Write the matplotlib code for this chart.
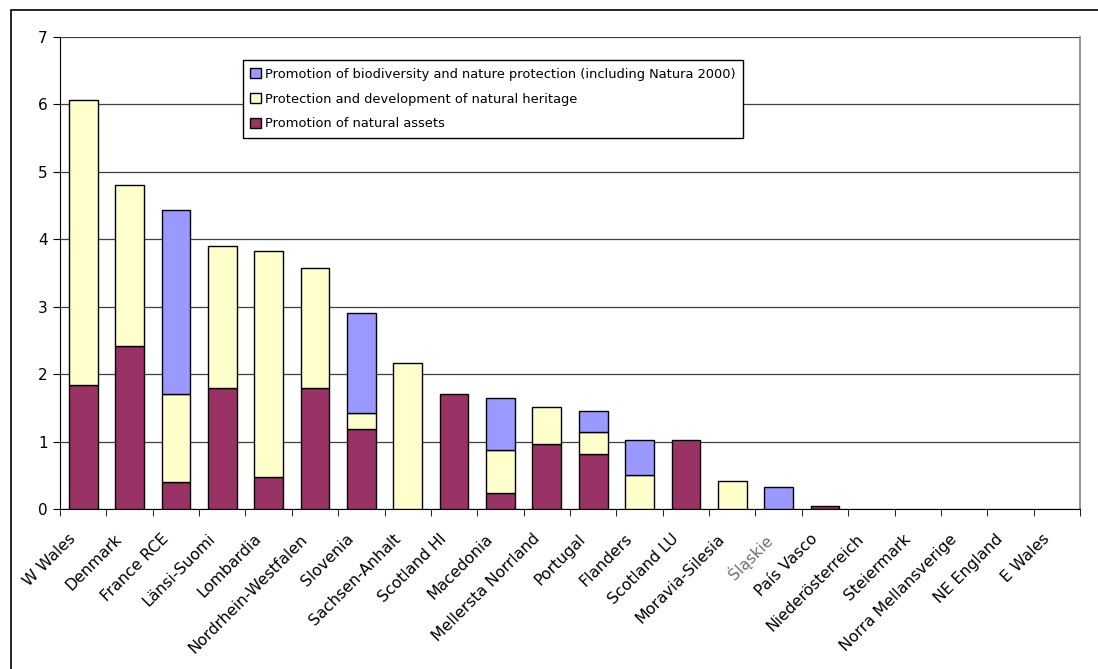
import numpy as np
import matplotlib.pyplot as plt
from matplotlib.transforms import ScaledTranslation
from matplotlib.patches import Rectangle, Patch

# Данные
regions = ['W Wales', 'Denmark', 'France RCE', 'Länsi-Suomi', 'Lombardia',
           'Nordrhein-Westfalen', 'Slovenia', 'Sachsen-Anhalt', 'Scotland HI',
           'Macedonia', 'Mellersta Norrland', 'Portugal', 'Flanders',
           'Scotland LU', 'Moravia-Silesia', 'Śląskie', 'País Vasco',
           'Niederösterreich', 'Steiermark', 'Norra Mellansverige',
           'NE England', 'E Wales']
natural_assets = [1.84, 2.41, 0.40, 1.80, 0.47, 1.79, 1.19, 0.0, 1.70,
                  0.24, 0.97, 0.81, 0.0, 1.02, 0.0, 0.0, 0.05,
                  0.0, 0.0, 0.0, 0.0, 0.0]
natural_heritage = [4.23, 2.40, 1.30, 2.10, 3.36, 1.78, 0.23, 2.16, 0.0,
                    0.64, 0.54, 0.33, 0.50, 0.0, 0.42, 0.0, 0.0,
                    0.0, 0.0, 0.0, 0.0, 0.0]
biodiversity = [0.0, 0.0, 2.74, 0.0, 0.0, 0.0, 1.49, 0.0, 0.0,
                0.77, 0.0, 0.32, 0.52, 0.0, 0.0, 0.33, 0.0,
                0.0, 0.0, 0.0, 0.0, 0.0]

series_labels = ['Promotion of natural assets',
                 'Protection and development of natural heritage',
                 'Promotion of biodiversity and nature protection (including Natura 2000)']
colors = ['#993366', '#FFFFCC', '#9999FF']

plt.rcParams['font.family'] = ['DejaVu Sans']

fig = plt.figure(figsize=(10.98, 6.69), dpi=100)
ax = fig.add_axes([60 / 1098, 1 - 509 / 669, 1020 / 1098, 472 / 669])

# Рамка вокруг всей диаграммы
fig.patches.append(Rectangle((11 / 1098, -0.1), 1.2, 1.1 - 10 / 669,
                             transform=fig.transFigure, fill=False,
                             edgecolor='black', linewidth=1.2))

x = np.arange(len(regions))
a = np.array(natural_assets)
h = np.array(natural_heritage)
b = np.array(biodiversity)
w = 0.62

# Рисуем только ненулевые сегменты
bottom = np.zeros(len(regions))
for vals, c in zip([a, h, b], colors):
    m = vals > 0
    ax.bar(x[m], vals[m], w, bottom=bottom[m], color=c, edgecolor='black',
           linewidth=1, zorder=3)
    bottom = bottom + vals

ax.set_ylim(0, 7)
ax.set_xlim(-0.5, len(regions) - 0.5)
ax.set_yticks(range(8))
ax.yaxis.grid(True, color='#404040', linewidth=0.9, zorder=0)
ax.set_axisbelow(True)

ax.spines['top'].set_visible(False)
ax.spines['right'].set_color('#808080')
ax.spines['right'].set_linewidth(1.2)

ax.tick_params(axis='y', length=5, direction='out', labelsize=11, pad=4)
ax.set_xticks(x)
ax.set_xticks(np.arange(len(regions) + 1) - 0.5, minor=True)
ax.tick_params(axis='x', which='major', length=0, pad=16)
ax.tick_params(axis='x', which='minor', length=5, direction='out')
ax.set_xticklabels(regions, rotation=45, ha='right', rotation_mode='anchor',
                   fontsize=11.3)
for lbl in ax.get_xticklabels():
    lbl.set_transform(lbl.get_transform() +
                      ScaledTranslation(-15 / 100, 0, fig.dpi_scale_trans))
    if lbl.get_text() == 'Śląskie':
        lbl.set_color('#707070')

handles = [Patch(facecolor=colors[i], edgecolor='black', linewidth=1)
           for i in (2, 1, 0)]
leg = ax.legend(handles, [series_labels[i] for i in (2, 1, 0)],
                loc='upper left', bbox_to_anchor=(0.179, 0.951),
                fontsize=9.4, frameon=True, fancybox=False,
                edgecolor='black', framealpha=1, handlelength=0.8,
                handleheight=0.8, handletextpad=0.3, labelspacing=0.9,
                borderpad=0.6, borderaxespad=0)
leg.get_frame().set_linewidth(1)

fig.savefig('out.png', dpi=100)
